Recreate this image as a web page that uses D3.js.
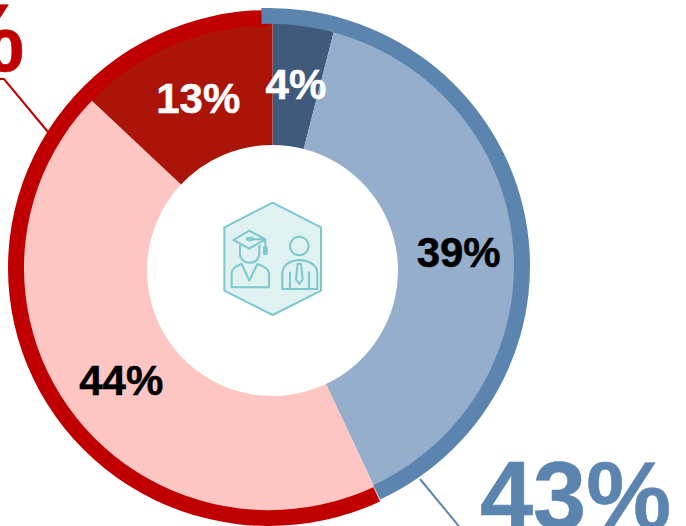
<!DOCTYPE html>
<html><head><meta charset="utf-8">
<script src="https://cdn.jsdelivr.net/npm/d3@7"></script>
<style>html,body{margin:0;padding:0;background:#fff;overflow:hidden}svg{display:block}text{font-family:"Liberation Sans",Arial,sans-serif;font-weight:700}</style>
</head><body><svg id="c" width="686" height="526"></svg>
<script>
const sliceLabels = ["4%","39%","44%","13%"];
const sliceValues = [4,39,44,13];
const sliceColors = ["#3f5a7a","#95aecb","#fec6c2","#ab1408"];
const sliceTextColors = ["#fff","#000","#000","#fff"];
const ringValues = [43,57];
const ringLabels = ["43%","57%"];
const ringColors = ["#5b85af","#c00000"];

const svg = d3.select("#c");
const pie = d3.pie().sort(null).value(d=>d);
const cx=272.5, cy=270.5;

const sliceArc = d3.arc().innerRadius(125.5).outerRadius(250);
const labelArc = d3.arc().innerRadius(125).outerRadius(249);
const slices = pie(sliceValues);
const g = svg.append("g").attr("transform",`translate(${cx},${cy})`);
g.selectAll("path").data(slices).join("path").attr("d",sliceArc).attr("fill",(d,i)=>sliceColors[i]);

// outer ring: each half is offset slightly and a little flattened, as in the source
const ringArc = d3.arc().innerRadius(245).outerRadius(261);
const ringArcs = pie(ringValues);
const ringCentres = [[269,266],[269,268]];
[1,0].forEach(i=>{
  svg.append("path").attr("transform",`translate(${ringCentres[i]}) scale(1,0.9885)`)
    .attr("d",ringArc(i===0?{startAngle:-0.03,endAngle:ringArcs[0].endAngle}:ringArcs[1])).attr("fill",ringColors[i]);
});

g.selectAll("text").data(slices).join("text")
  .attr("transform",d=>`translate(${labelArc.centroid(d)})`)
  .attr("text-anchor","middle").attr("dy","0.34em").attr("font-size",42)
  .attr("fill",(d,i)=>sliceTextColors[i]).attr("stroke",(d,i)=>sliceTextColors[i]).attr("stroke-width",0.5)
  .text((d,i)=>sliceLabels[i]);

// leader lines
const lineGen = d3.line();
svg.append("path").attr("d",lineGen([[420,479],[462,530]])).attr("fill","none").attr("stroke",ringColors[0]).attr("stroke-width",2);
svg.append("path").attr("d",lineGen([[-2,79],[4,79],[48,132]])).attr("fill","none").attr("stroke",ringColors[1]).attr("stroke-width",2);

svg.append("text").attr("x",480).attr("y",529).attr("font-size",95.5).attr("fill",ringColors[0]).attr("stroke",ringColors[0]).attr("stroke-width",0.6).text(ringLabels[0]);
svg.append("text").attr("x",24.5).attr("y",71).attr("text-anchor","end").attr("font-size",95.5).attr("fill",ringColors[1]).attr("stroke",ringColors[1]).attr("stroke-width",0.6).text(ringLabels[1]);

// centre icon
const teal="#7cc8cc";
const ic = svg.append("g").attr("transform","translate(200,190) scale(0.3333)")
  .attr("fill","none").attr("stroke",teal).attr("stroke-width",6).attr("stroke-linejoin","round");
ic.append("path").attr("d","M218,38 L363,112 V302 L218,375 L73,302 V112 Z").attr("fill","#e0f1f1");
ic.append("path").attr("d","M100,150 L148,122 L196,148 L148,176 Z");
ic.append("ellipse").attr("cx",150).attr("cy",147).attr("rx",9).attr("ry",4);
ic.append("path").attr("d","M155,148 H196 V172");
ic.append("rect").attr("x",192).attr("y",172).attr("width",8).attr("height",20).attr("fill",teal);
ic.append("path").attr("d","M120,165 V190 C120,228 178,228 178,190 V165");
ic.append("path").attr("d","M95,292 V250 Q95,232 125,222 L148,272 L172,222 Q205,232 207,250 V292 Z");
ic.append("circle").attr("cx",298).attr("cy",168).attr("r",28);
ic.append("path").attr("d","M247,297 V252 Q247,214 298,210 Q352,214 352,252 V297 Z");
ic.append("path").attr("d","M270,245 V297 M327,245 V297");
ic.append("path").attr("d","M293,222 H303 L308,268 L298,282 L288,268 Z");
</script></body></html>
